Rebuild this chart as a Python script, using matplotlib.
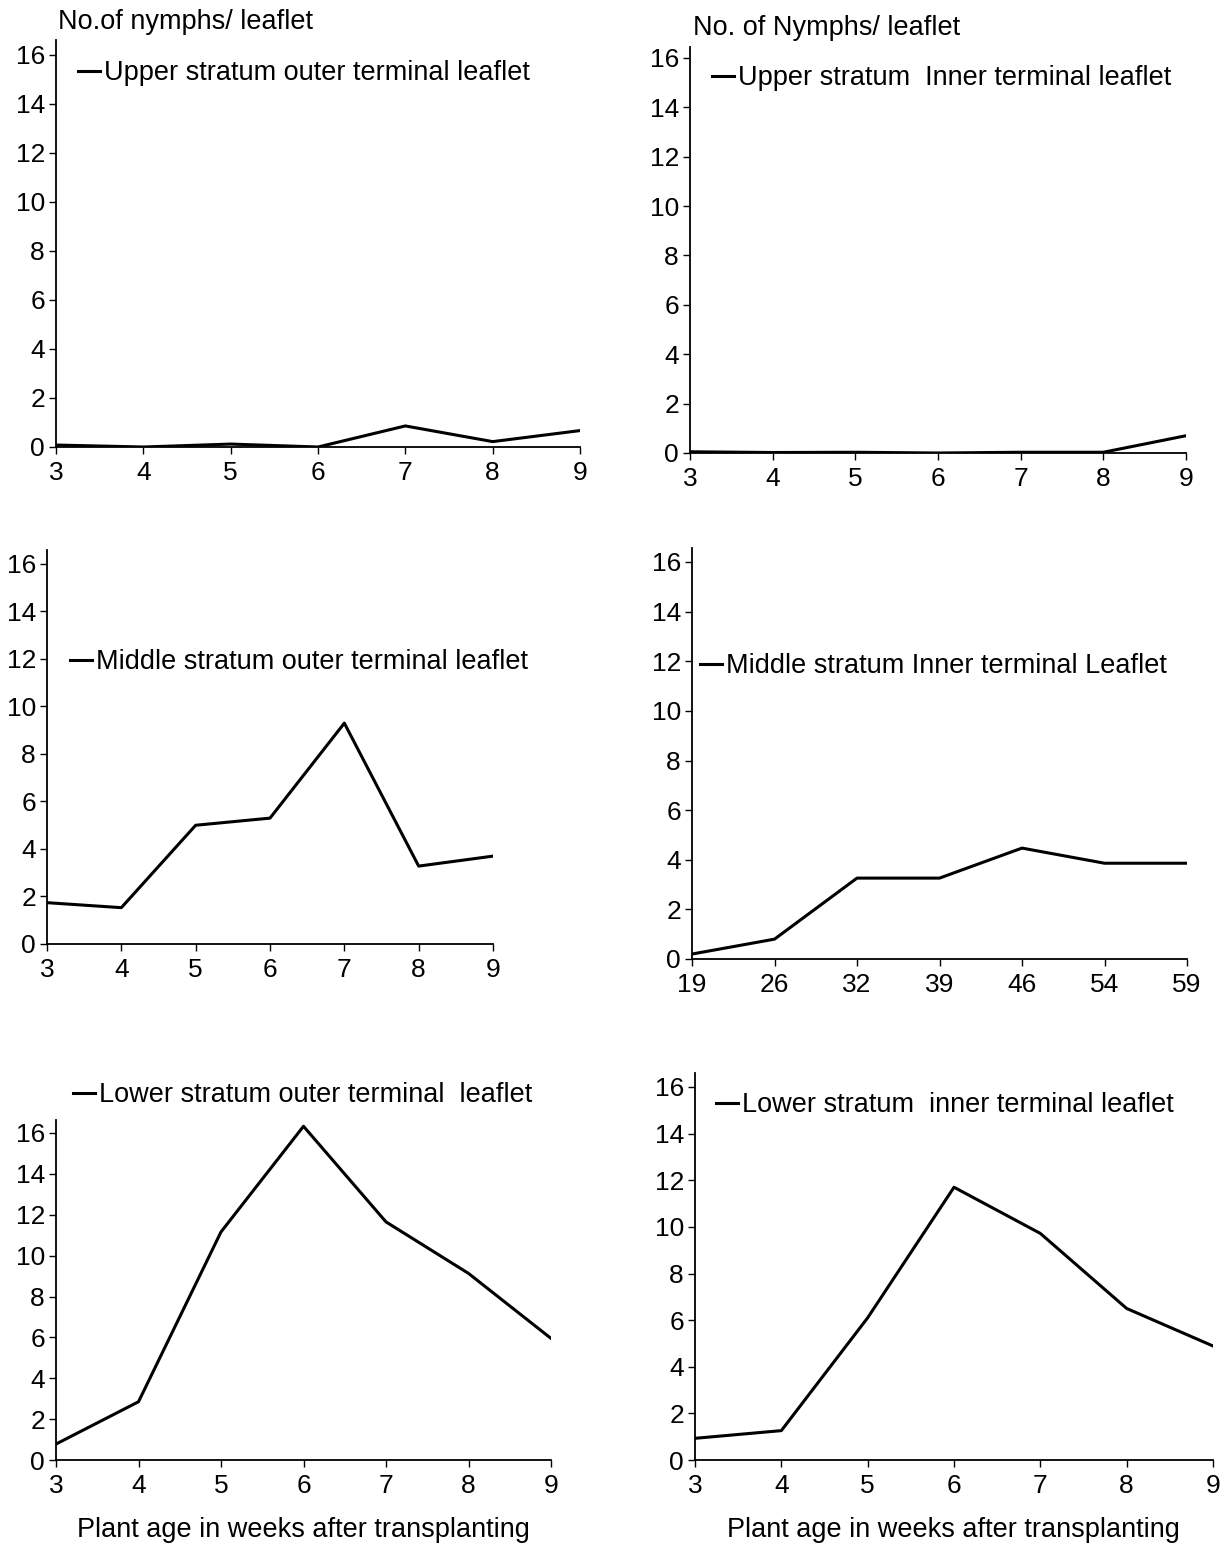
import matplotlib
matplotlib.use("Agg")
import matplotlib.pyplot as plt

plt.rcParams['font.family'] = ['Liberation Sans', 'DejaVu Sans']

W, H = 1228, 1544

# data
weeks = [3, 4, 5, 6, 7, 8, 9]
days_mid_inner = ['19', '26', '32', '39', '46', '54', '59']

upper_outer = [0.08, 0.0, 0.12, 0.0, 0.86, 0.22, 0.67]
upper_inner = [0.05, 0.02, 0.03, 0.0, 0.03, 0.03, 0.7]
middle_outer = [1.74, 1.53, 5.0, 5.3, 9.3, 3.28, 3.7]
middle_inner = [0.2, 0.8, 3.26, 3.26, 4.47, 3.86, 3.86]
lower_outer = [0.78, 2.85, 11.16, 16.33, 11.65, 9.13, 5.95]
lower_inner = [0.93, 1.26, 6.1, 11.7, 9.72, 6.5, 4.89]

labels = ["Upper stratum outer terminal leaflet",
          "Upper stratum  Inner terminal leaflet",
          "Middle stratum outer terminal leaflet",
          "Middle stratum Inner terminal Leaflet",
          "Lower stratum outer terminal  leaflet",
          "Lower stratum  inner terminal leaflet"]

series = [(weeks, upper_outer), (weeks, upper_inner),
          (weeks, middle_outer), (days_mid_inner, middle_inner),
          (weeks, lower_outer), (weeks, lower_inner)]

# layout in pixels: x0, x1, y(0), y(16), y(top of axis)
boxes = [(56, 580, 447, 55, 40),
         (690, 1186, 453, 58, 47),
         (47, 493, 944, 564, 550),
         (692, 1187, 959, 562, 548),
         (56, 551, 1460, 1133, 1120),
         (695, 1213, 1460, 1087, 1073)]
legend_pos = [(78, 73), (712, 78), (70, 662), (700, 666), (73, 1095), (716, 1105)]

fs = 19.5
fig = plt.figure(figsize=(W / 100, H / 100), dpi=100)

for i, ((xs, ys), (x0, x1, y0, y16, yt)) in enumerate(zip(series, boxes)):
    ax = fig.add_axes([x0 / W, 1 - y0 / H, (x1 - x0) / W, (y0 - yt) / H])
    ax.plot(xs, ys, color='black', lw=2.2, label=labels[i])
    if isinstance(xs[0], str):
        ax.set_xlim(0, len(xs) - 1)
    else:
        ax.set_xlim(xs[0], xs[-1])
        ax.set_xticks(xs)
    ax.set_ylim(0, 16 * (y0 - yt) / (y0 - y16))
    ax.set_yticks(range(0, 17, 2))
    for s in ['top', 'right']:
        ax.spines[s].set_visible(False)
    for s in ['left', 'bottom']:
        ax.spines[s].set_linewidth(1.3)
    ax.tick_params(direction='out', length=5, width=1, labelsize=19, pad=3)
    ax.tick_params(axis='x', pad=5)
    lx, ly = legend_pos[i]
    ax.legend(loc='center left', bbox_to_anchor=(lx / W, 1 - ly / H),
              bbox_transform=fig.transFigure, frameon=False, fontsize=fs,
              handlelength=0.8, handletextpad=0.15, borderpad=0, borderaxespad=0)
    if i == 0:
        fig.text(58 / W, 1 - 22 / H, "No.of nymphs/ leaflet", fontsize=fs, va='center', ha='left')
    if i == 1:
        fig.text(693 / W, 1 - 28 / H, "No. of Nymphs/ leaflet", fontsize=fs, va='center', ha='left')

fig.text(303 / W, 1 - 1530 / H, "Plant age in weeks after transplanting", fontsize=fs, ha='center', va='center')
fig.text(953 / W, 1 - 1530 / H, "Plant age in weeks after transplanting", fontsize=fs, ha='center', va='center')

fig.savefig("out.png", dpi=100)
